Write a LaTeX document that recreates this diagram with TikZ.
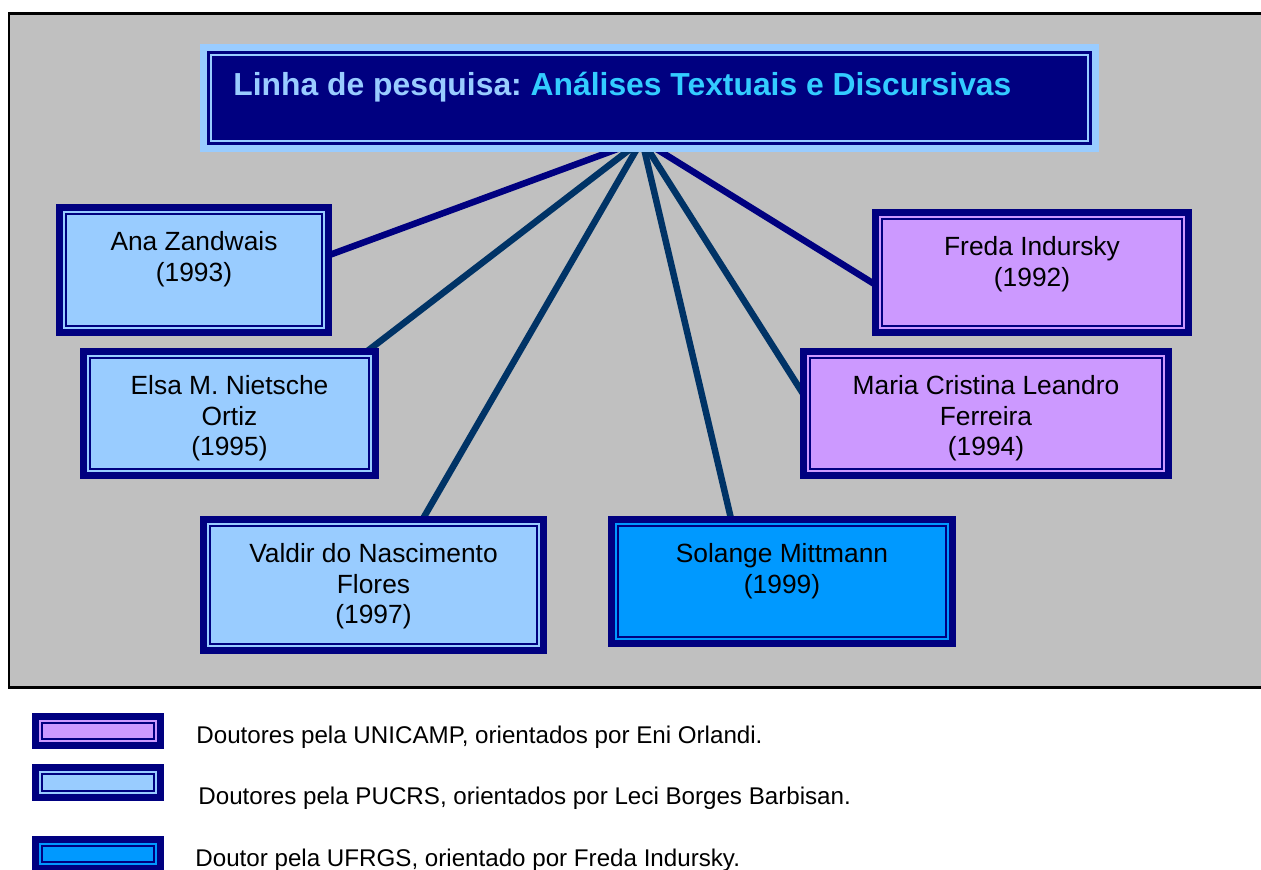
\documentclass[tikz,border=0pt]{standalone}
\usepackage{fontspec}
\setmainfont{Liberation Sans}
\frenchspacing
\usetikzlibrary{positioning}
\definecolor{boxnavy}{HTML}{000080}
\definecolor{linkblue}{HTML}{003366}
\definecolor{paleblue}{HTML}{99CCFF}
\definecolor{lilac}{HTML}{CC99FF}
\definecolor{brightblue}{HTML}{0099FF}
\definecolor{skycyan}{HTML}{33CCFF}
\definecolor{framegrey}{HTML}{C0C0C0}
\pgfdeclarelayer{back}
\pgfdeclarelayer{lines}
\pgfsetlayers{back,lines,main}
\tikzset{
  personbox/.style={draw=boxnavy, fill=#1, line width=0.176cm, outer sep=0pt, inner sep=0pt},
  nametext/.style={align=center, inner sep=0pt, font=\fontsize{12}{14}\selectfont},
  legendtext/.style={anchor=base west, inner sep=0pt, font=\fontsize{11}{13}\selectfont},
  link/.style={line width=0.104cm, draw=#1},
  link/.default=linkblue
}

\begin{document}
\begin{tikzpicture}[x=0.016cm, y=-0.016cm]
	\useasboundingbox (0, 0) rectangle (1261, 869);
	\begin{pgfonlayer}{back}
		\fill[white] (0, 0) rectangle (1261, 869);
		\draw[black, line width=0.048cm, fill=framegrey] (9, 13) rectangle (1290, 687);
	\end{pgfonlayer}
	% title
	\node[draw=paleblue, fill=boxnavy, line width=0.112cm, outer sep=0pt, minimum width=14.272cm, minimum height=1.616cm] (title) at (649.5, 98) {};
	\draw[paleblue, line width=0.024cm] ([shift={(7.25,7.25)}]title.north west) rectangle ([shift={(-7.25,-7.25)}]title.south east);
	\node[anchor=base west, inner sep=0pt, font=\bfseries\fontsize{14.5}{17}\selectfont] (title-txt) at (233, 95) {\textcolor{paleblue}{Linha de pesquisa:} \textcolor{skycyan}{Análises Textuais e Discursivas}};
	\coordinate (hub) at (642, 140);
	% boxes
	\node[personbox=paleblue, minimum width=4.24cm, minimum height=1.936cm] (ana) at (194, 270) {};
	\node[personbox=paleblue, minimum width=4.608cm, minimum height=1.92cm] (elsa) at (229.5, 413.5) {};
	\node[personbox=paleblue, minimum width=5.376cm, minimum height=2.032cm] (valdir) at (373.5, 585) {};
	\node[personbox=brightblue, minimum width=5.392cm, minimum height=1.92cm] (solange) at (782, 581.5) {};
	\node[personbox=lilac, minimum width=4.944cm, minimum height=1.856cm] (freda) at (1032, 272.5) {};
	\node[personbox=lilac, minimum width=5.776cm, minimum height=1.92cm] (maria) at (986, 413.5) {};
	% legend
	\node[personbox=lilac, minimum width=1.936cm, minimum height=0.4cm] (key-unicamp) at (98, 731) {};
	\node[personbox=paleblue, minimum width=1.936cm, minimum height=0.416cm] (key-pucrs) at (98, 782.5) {};
	\node[personbox=brightblue, minimum width=1.936cm, minimum height=0.4cm] (key-ufrgs) at (98, 854) {};
	\foreach \n/\c in {ana/paleblue, elsa/paleblue, valdir/paleblue, solange/brightblue, freda/lilac, maria/lilac, key-unicamp/lilac, key-pucrs/paleblue, key-ufrgs/brightblue}
		\draw[\c, line width=0.032cm] ([shift={(2.5,2.5)}]\n.north west) rectangle ([shift={(-2.5,-2.5)}]\n.south east);
	% names
	\node[nametext, below=0.304cm of ana.north] (ana-txt) {\strut Ana Zandwais\\(1993)};
	\node[nametext, below=0.304cm of elsa.north] (elsa-txt) {\strut Elsa M. Nietsche\\Ortiz\\(1995)};
	\node[nametext, below=0.304cm of valdir.north] (valdir-txt) {\strut Valdir do Nascimento\\Flores\\(1997)};
	\node[nametext, below=0.304cm of solange.north] (solange-txt) {\strut Solange Mittmann\\(1999)};
	\node[nametext, below=0.304cm of freda.north] (freda-txt) {\strut Freda Indursky\\(1992)};
	\node[nametext, below=0.304cm of maria.north] (maria-txt) {\strut Maria Cristina Leandro\\Ferreira\\(1994)};
	\node[legendtext] (key-unicamp-txt) at (196, 743) {Doutores pela UNICAMP, orientados por Eni Orlandi.};
	\node[legendtext] (key-pucrs-txt) at (198, 804) {Doutores pela PUCRS, orientados por Leci Borges Barbisan.};
	\node[legendtext] (key-ufrgs-txt) at (195, 866) {Doutor pela UFRGS, orientado por Freda Indursky.};
	% connectors
	\begin{pgfonlayer}{lines}
		\draw[link=boxnavy] (hub) -- (ana.6);
		\draw[link] (hub) -- (elsa.24);
		\draw[link] (hub) -- (valdir.53);
		\draw[link] (hub) -- (solange.130);
		\draw[link] (hub) -- (maria.175);
		\draw[link=boxnavy] (hub) -- (freda.185);
	\end{pgfonlayer}
\end{tikzpicture}
\end{document}
